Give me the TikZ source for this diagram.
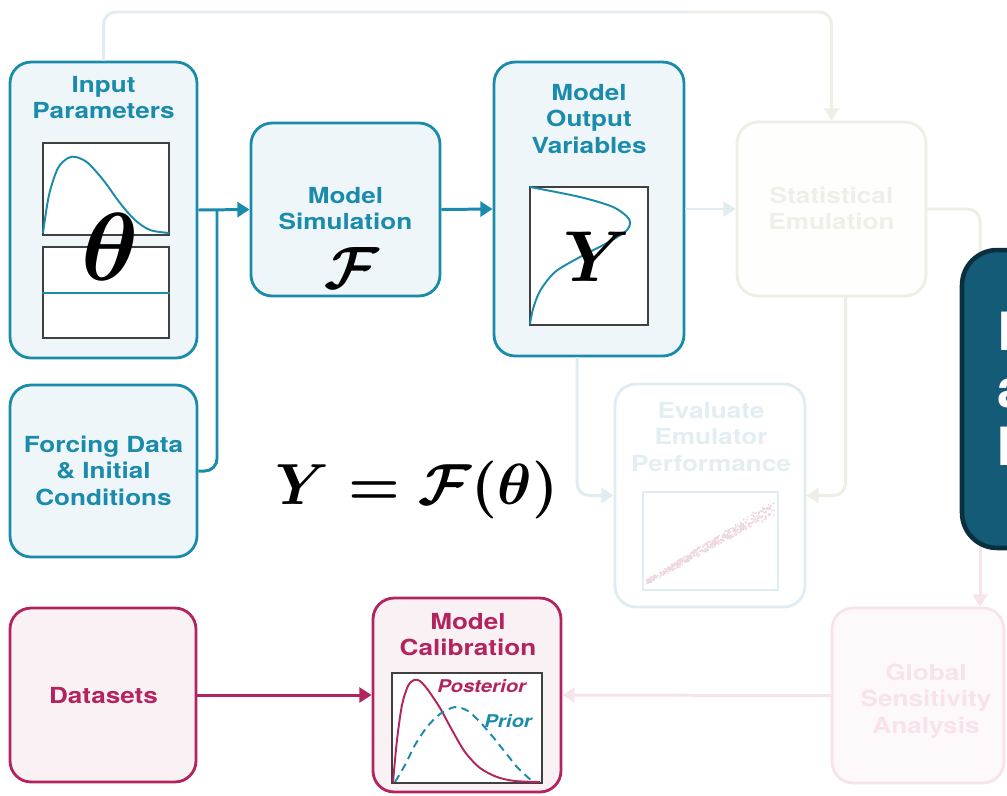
\documentclass[tikz,border=0pt]{standalone}
\usepackage{amsmath}
\usepackage[no-math]{fontspec}
\setmainfont{TeX Gyre Heros}
\usepackage{graphicx}
\usetikzlibrary{arrows.meta,calc}

\definecolor{tealc}{HTML}{1A8BAA}
\definecolor{tealfill}{HTML}{EEF6F9}
\definecolor{magc}{HTML}{B3245F}
\definecolor{pinkfill}{HTML}{FAF1F5}
\definecolor{darkblue}{HTML}{135B77}
\definecolor{darkedge}{HTML}{0B2F3F}
\definecolor{fgreen}{HTML}{ECEFE4}
\definecolor{fgreentext}{HTML}{EEF0E8}
\definecolor{fblue}{HTML}{DFECF1}
\definecolor{fbluetext}{HTML}{E3EEF3}
\definecolor{fpink}{HTML}{F7E3EB}
\definecolor{scatc}{HTML}{EED6E0}

\newcommand{\wtext}[1]{\scalebox{1.18}[1]{\begin{tabular}[t]{@{}c@{}}#1\end{tabular}}}

\begin{document}
\begin{tikzpicture}[x=0.02cm,y=-0.02cm,
    rbox/.style={draw,rounded corners=12pt,line width=1.6pt,inner sep=0pt},
    bluebox/.style={rbox,draw=tealc,fill=tealfill},
    pinkbox/.style={rbox,draw=magc,fill=pinkfill},
    plotbox/.style={draw=black!75,fill=white,line width=0.6pt,inner sep=0pt},
    lbl/.style={anchor=base,inner sep=0pt,font=\bfseries\fontsize{12.6}{15.3}\selectfont},
    conn/.style={line width=1.7pt,rounded corners=7pt,-{Triangle[length=7pt,width=8.5pt]}},
    curve/.style={line width=1.1pt,tealc}]
    \useasboundingbox (0,0) rectangle (1007,795);
    \clip (0,0) rectangle (1007,795);

    % Input parameters
    \node[bluebox,minimum width=3.74cm,minimum height=5.92cm] (ip) at (103.5,210) {};
    \node[lbl,text=tealc] (iplbl) at (103.5,92) {\wtext{Input\\Parameters}};
    \node[plotbox,minimum width=2.52cm,minimum height=1.84cm] (ipplot) at (106,189) {};
    \node[plotbox,minimum width=2.52cm,minimum height=1.82cm] (ipflat) at (106,292.5) {};
    \draw[curve] plot[smooth] coordinates {(43,233) (49,195) (58,168) (68,158) (76,157)
        (88,163) (104,181) (120,203) (135,220) (150,230) (169,233)};
    \draw[curve] (ipflat.west |- 0,293) -- (ipflat.east |- 0,293);
    \node (theta) at (110,247) {\scalebox{5.5}{$\boldsymbol{\theta}$}};

    % Forcing data
    \node[bluebox,minimum width=3.74cm,minimum height=3.44cm] (fd) at (103.5,471) {};
    \node[lbl,text=tealc] (fdlbl) at (103.5,452) {\wtext{Forcing Data\\\& Initial\\Conditions}};

    % Model simulation
    \node[bluebox,minimum width=3.78cm,minimum height=3.46cm] (ms) at (345.5,209.5) {};
    \node[lbl,text=tealc] (mslbl) at (345.5,203) {\wtext{Model\\Simulation}};
    \node (calf) at (352,268) {\scalebox{3.4}{$\boldsymbol{\mathcal{F}}$}};

    % Model output
    \node[bluebox,minimum width=3.8cm,minimum height=5.88cm] (mo) at (589,209) {};
    \node[lbl,text=tealc] (molbl) at (589,100) {\wtext{Model\\Output\\Variables}};
    \node[plotbox,minimum width=2.36cm,minimum height=2.76cm] (moplot) at (589,256) {};
    \draw[curve] plot[smooth] coordinates {(530,187) (580,197) (613,207) (629,219) (627,230)
        (607,243) (580,257) (555,272) (540,291) (533,309) (530,324)};
    \node (yout) at (597,257) {\scalebox{4.1}{$\boldsymbol{Y}$}};

    % Equation
    \node (eqn) at (417,490) {\scalebox{3.3}{\boldmath$Y = \mathcal{F}(\theta)$}};

    % Statistical emulation (faded)
    \node[rbox,draw=fgreen,fill=white!70!fgreen!20,minimum width=3.78cm,minimum height=3.48cm] (se) at (831.5,209) {};
    \node[lbl,text=fgreentext] (selbl) at (831.5,203) {\wtext{Statistical\\Emulation}};

    % Evaluate emulator (faded)
    \node[rbox,draw=fblue,fill=white,minimum width=3.8cm,minimum height=4.46cm] (ev) at (710,495.5) {};
    \node[lbl,text=fbluetext] (evlbl) at (711,418) {\wtext{Evaluate\\Emulator\\Performance}};
    \node[plotbox,draw=fblue,minimum width=2.7cm,minimum height=1.96cm] (evplot) at (710.5,541) {};
    \pgfmathsetseed{11}
    \foreach \i in {1,...,480}{
        \pgfmathsetmacro{\tp}{rnd}
        \pgfmathsetmacro{\px}{647+126*\tp+2*rand}
        \pgfmathsetmacro{\py}{582-74*\tp+(2+5*\tp)*rand}
        \fill[scatc] (\px,\py) circle (0.55pt);
    }

    % Datasets and calibration
    \node[pinkbox,minimum width=3.72cm,minimum height=3.48cm] (ds) at (103,695) {};
    \node[lbl,text=magc] (dslbl) at (103.5,703) {\wtext{Datasets}};
    \node[pinkbox,minimum width=3.76cm,minimum height=3.88cm] (mc) at (467,695) {};
    \node[lbl,text=magc] (mclbl) at (468,629) {\wtext{Model\\Calibration}};
    \node[plotbox,minimum width=3cm,minimum height=2.2cm] (mcplot) at (467,728) {};
    \draw[line width=1.1pt,magc] plot[smooth] coordinates {(393,782) (397,740) (402,705) (408,686)
        (414,680) (420,681) (428,690) (440,708) (452,730) (465,752) (480,768) (497,777) (515,781) (540,782)};
    \draw[line width=1.1pt,tealc,dash pattern=on 4.5pt off 3pt] plot[smooth] coordinates {(395,782) (405,765)
        (415,745) (427,727) (440,714) (455,707) (468,711) (480,722) (493,737) (505,752) (518,768) (532,781)};
    \node[anchor=base west,inner sep=0pt,text=magc,font=\bfseries\itshape\fontsize{10}{12}\selectfont] (post) at (437,692) {\scalebox{1.16}[1]{Posterior}};
    \node[anchor=base west,inner sep=0pt,text=tealc,font=\bfseries\itshape\fontsize{10}{12}\selectfont] (prior) at (484,727) {\scalebox{1.16}[1]{Prior}};

    % Global sensitivity (faded)
    \node[rbox,draw=fpink,fill=white!80!fpink,minimum width=3.44cm,minimum height=3.5cm] (gsa) at (918,695.5) {};
    \node[lbl,text=fpink] (gsalbl) at (926,680) {\wtext{Global\\Sensitivity\\Analysis}};

    % Connectors
    \coordinate (join) at (217,210);
    \draw[conn,draw=tealc] (ip.east) -- (ms.west);
    \draw[line width=1.7pt,tealc,rounded corners=7pt] (fd.east) -| (join);
    \draw[conn,draw=tealc] (ms.east) -- (mo.west);
    \draw[conn,draw=fblue] (mo.east) -- (se.west);
    \coordinate (topmid) at (689,12);
    \draw[line width=1.7pt,fblue,rounded corners=7pt] (ip.north) |- (topmid);
    \draw[conn,draw=fgreen] (topmid) -| (se.north);
    \coordinate (sedrop) at ($(se.south)+(14,0)$);
    \draw[conn,draw=fgreen] (sedrop) |- (ev.east);
    \draw[conn,draw=fblue] ($(mo.south)+(-12,0)$) |- (ev.west);
    \coordinate (gsabend) at (980,400);
    \draw[line width=1.7pt,fgreen,rounded corners=7pt] (se.east) -| (gsabend);
    \draw[conn,draw=fpink] (gsabend) -- (gsa.north -| gsabend);
    \draw[conn,draw=fpink] (gsa.west) -- (mc.east);
    \draw[conn,draw=magc] (ds.east) -- (mc.west);

    % Note box on the right
    \node[rbox,draw=darkedge,fill=darkblue,line width=2.6pt,rounded corners=20pt,minimum width=4cm,minimum height=5.96cm] (note) at (1062,399) {};
    \node[anchor=base west,inner sep=0pt,text=white,font=\bfseries\fontsize{30}{33}\selectfont] (notetxt) at (997,350)
        {\begin{tabular}[t]{@{}l@{}}Emulation\\and\\Inference\end{tabular}};
\end{tikzpicture}
\end{document}
